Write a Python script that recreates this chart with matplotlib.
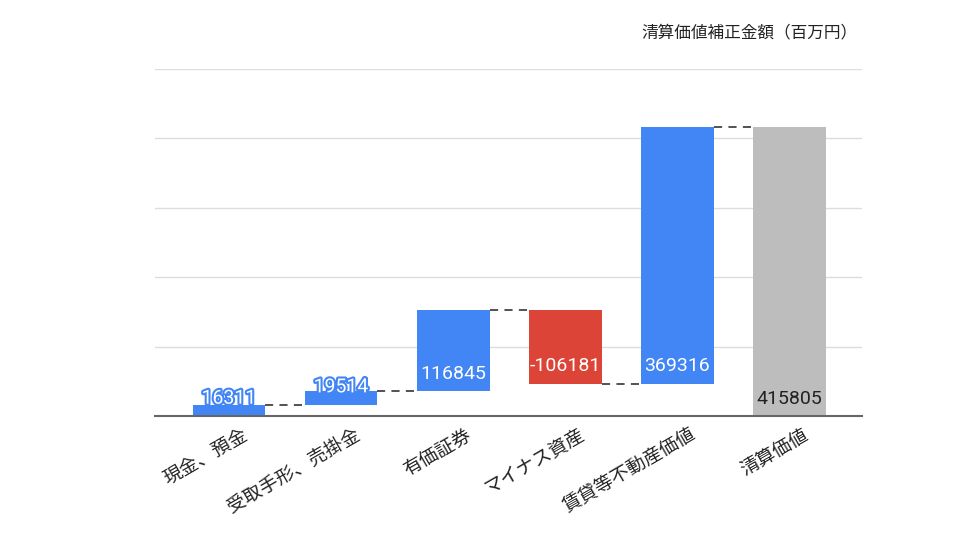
import matplotlib
matplotlib.use("Agg")
import matplotlib.pyplot as plt
import matplotlib.patheffects as pe
import matplotlib.transforms as mtrans

plt.rcParams['font.family'] = ['Noto Sans CJK JP', 'DejaVu Sans']

categories = ["現金、預金", "受取手形、売掛金", "有価証券", "マイナス資産", "賃貸等不動産価値", "清算価値"]
values = [16311, 19514, 116845, -106181, 369316, 415805]
is_total = [False, False, False, False, False, True]
title = "清算価値補正金額（百万円）"

BLUE = "#4285F4"
RED = "#DB4437"
GRAY = "#BDBDBD"

fig = plt.figure(figsize=(9.6, 5.4), dpi=100)
ax = fig.add_axes([0.1615, 0.2296, 0.7365, 0.6426])

bw = 0.65
running = 0
ends = []
for i, (v, tot) in enumerate(zip(values, is_total)):
    if tot:
        bottom, height, color = 0, v, GRAY
        end = v
    else:
        bottom = running if v >= 0 else running + v
        height = abs(v)
        color = BLUE if v >= 0 else RED
        running += v
        end = running
    ax.bar(i, height, bottom=bottom, width=bw, color=color, zorder=3)
    ends.append(end)
    low = bottom
    if tot:
        ax.annotate(f"{v}", (i, low), xytext=(0, 6), textcoords="offset points",
                    ha="center", va="bottom", fontsize=14, family=["Roboto", "DejaVu Sans"],
                    color="#222222", zorder=5)
    else:
        txt = ax.annotate(f"{v}", (i, low), xytext=(0, 6), textcoords="offset points",
                          ha="center", va="bottom", fontsize=14, family=["Roboto", "DejaVu Sans"],
                          color="white", zorder=5)
        if height < 40000:
            txt.set_path_effects([pe.Stroke(linewidth=3, foreground=color), pe.Normal()])

for i in range(len(values) - 1):
    ax.plot([i + bw / 2, i + 1 - bw / 2], [ends[i], ends[i]], ls=(0, (4.5, 3.5)),
            color="#444444", lw=1.3, zorder=4)

ax.set_xlim(-0.66, 5.65)
ax.set_ylim(0, 500000)
ax.set_yticks([100000, 200000, 300000, 400000, 500000])
ax.set_yticklabels([])
ax.tick_params(axis="y", length=0)
ax.grid(axis="y", color="#DDDDDD", lw=1, zorder=0)
for s in ["top", "right", "left"]:
    ax.spines[s].set_visible(False)
ax.spines["bottom"].set_color("#666666")
ax.spines["bottom"].set_linewidth(1.5)
ax.spines["bottom"].set_zorder(6)

ax.set_xticks(range(len(categories)))
ax.set_xticklabels(categories, rotation=30, ha="right", rotation_mode="anchor",
                   fontsize=13.5, color="#222222")
ax.tick_params(axis="x", length=0, pad=6)
offset = mtrans.ScaledTranslation(12 / 100, 0, fig.dpi_scale_trans)
for lab in ax.get_xticklabels():
    lab.set_transform(lab.get_transform() + offset)

fig.text(857 / 960, 1 - 33 / 540, title, ha="right", va="center", fontsize=12, color="#222222")

fig.savefig("out.png", dpi=100)
